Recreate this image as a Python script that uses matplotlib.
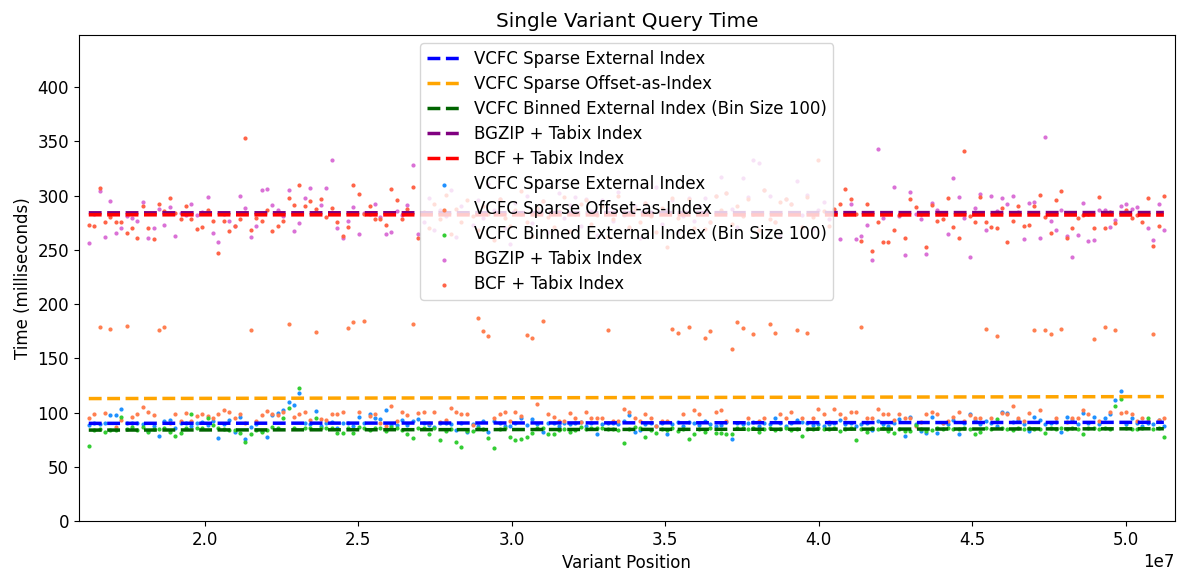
import numpy as np
import matplotlib
matplotlib.use("Agg")
import matplotlib.pyplot as plt

# Variant positions (in Mb)
positions_mb = [
    16.22, 16.40, 16.57, 16.75, 16.92, 17.10, 17.28, 17.45, 17.63, 17.80,
    17.98, 18.16, 18.33, 18.51, 18.68, 18.86, 19.04, 19.21, 19.39, 19.56,
    19.74, 19.92, 20.09, 20.27, 20.44, 20.62, 20.80, 20.97, 21.15, 21.32,
    21.50, 21.68, 21.85, 22.03, 22.20, 22.38, 22.56, 22.73, 22.91, 23.08,
    23.26, 23.44, 23.61, 23.79, 23.96, 24.14, 24.32, 24.49, 24.67, 24.84,
    25.02, 25.20, 25.37, 25.55, 25.72, 25.90, 26.08, 26.25, 26.43, 26.60,
    26.78, 26.96, 27.13, 27.31, 27.48, 27.66, 27.84, 28.01, 28.19, 28.36,
    28.54, 28.72, 28.89, 29.07, 29.24, 29.42, 29.60, 29.77, 29.95, 30.12,
    30.30, 30.48, 30.65, 30.83, 31.00, 31.18, 31.36, 31.53, 31.71, 31.88,
    32.06, 32.24, 32.41, 32.59, 32.76, 32.94, 33.12, 33.29, 33.47, 33.64,
    33.82, 34.00, 34.17, 34.35, 34.52, 34.70, 34.88, 35.05, 35.23, 35.40,
    35.58, 35.76, 35.93, 36.11, 36.28, 36.46, 36.64, 36.81, 36.99, 37.16,
    37.34, 37.52, 37.69, 37.87, 38.04, 38.22, 38.40, 38.57, 38.75, 38.92,
    39.10, 39.28, 39.45, 39.63, 39.80, 39.98, 40.16, 40.33, 40.51, 40.68,
    40.86, 41.04, 41.21, 41.39, 41.56, 41.74, 41.92, 42.09, 42.27, 42.44,
    42.62, 42.80, 42.97, 43.15, 43.32, 43.50, 43.68, 43.85, 44.03, 44.20,
    44.38, 44.56, 44.73, 44.91, 45.08, 45.26, 45.44, 45.61, 45.79, 45.96,
    46.14, 46.32, 46.49, 46.67, 46.84, 47.02, 47.20, 47.37, 47.55, 47.72,
    47.90, 48.08, 48.25, 48.43, 48.60, 48.78, 48.96, 49.13, 49.31, 49.48,
    49.66, 49.84, 50.01, 50.19, 50.36, 50.54, 50.72, 50.89, 51.07, 51.24,
]

# Query times (ms)
sparse_external = [
    88.5, 90.6, 89, 90, 97.7, 97.7, 103.2, 90.0, 90, 90,
    89, 82.9, 88, 78.6, 92.5, 93.1, 85.4, 90, 90, 88,
    90, 91, 88.5, 92.2, 76.8, 89, 93.1, 82.3, 96.1, 75.6,
    86.9, 89, 82.9, 77.7, 97.7, 99.2, 102.3, 109.4, 106.6, 117.7,
    90, 89, 101.7, 88, 90, 90.9, 85.4, 90, 90, 88,
    95.5, 90, 98.3, 95.2, 94.0, 102.6, 88.5, 88.5, 93.1, 88.5,
    92.5, 93.7, 90, 88.5, 86.9, 90, 90.6, 89, 83.9, 90,
    82.3, 89, 88, 92.5, 82.3, 92.5, 90, 88, 88, 90,
    95.2, 88.5, 93.7, 89, 82.3, 90, 90, 88, 90, 89,
    90, 91.6, 88, 90, 79.9, 89, 90, 90, 89, 92.5,
    98.0, 82.3, 83.9, 89, 90, 88, 90, 80.2, 89, 91,
    88, 91.6, 90, 88.5, 92.5, 89, 88, 88.5, 91.6, 75.6,
    90, 89, 90, 91, 88, 90, 89, 95.2, 90, 88,
    90, 93.1, 91.6, 90, 88.5, 89, 88, 89.1, 90, 93.1,
    89, 90, 88, 89, 90, 83.9, 92.5, 89, 88, 90,
    94.0, 78.6, 96.1, 89, 82.9, 81.4, 95.8, 81.4, 90, 89,
    93.1, 80.2, 90, 98.3, 93.1, 89, 92.5, 90, 88, 100.8,
    99.2, 91, 93.1, 89, 83.2, 96.1, 93.1, 89, 90, 91,
    82.3, 96.1, 93.1, 89, 99.2, 90, 96.1, 89, 94.6, 98.3,
    111.5, 120.1, 89, 94.6, 90, 88, 90, 89, 93.1, 87.5,
]

sparse_offset = [
    95.2, 98.3, 178.8, 99.2, 177.2, 87, 93, 179.7, 96.1, 98.3,
    105.4, 100.8, 97.7, 176.0, 178.8, 90, 98.3, 92, 99.2, 92.2,
    97.1, 98.3, 97.1, 95.2, 98.3, 102.6, 100.8, 95.2, 98.3, 90.0,
    176.0, 92.5, 97.7, 101.7, 98.3, 97.7, 100.8, 181.6, 95.8, 98.3,
    100.8, 93.1, 173.9, 94.3, 93.1, 98.3, 98.3, 100.8, 178.2, 183.7,
    100.2, 184.3, 97.1, 98.3, 90.6, 87.5, 105.9, 92.5, 100.8, 97.7,
    181.6, 99.2, 100.2, 90.3, 100.8, 91.6, 93.1, 104.5, 100.2, 98.3,
    98.3, 88.5, 187.1, 174.8, 170.5, 95.2, 98.3, 100.8, 92.5, 100.8,
    97.1, 171.7, 168.9, 107.5, 184.3, 98.3, 96.1, 92.5, 92, 99.9,
    95.2, 91, 100.8, 95.2, 95.2, 95.2, 176.0, 92.5, 92, 103.5,
    100.8, 95.2, 92, 98.3, 95.2, 88, 92.5, 92.5, 176.6, 173.0,
    98.3, 178.8, 102.0, 98.3, 168.9, 174.8, 100.8, 102.0, 92.5, 158.2,
    183.4, 177.6, 95.2, 172.0, 92, 95.2, 181.6, 173.0, 98.3, 95.2,
    100.8, 176.0, 95.2, 173.0, 94.6, 103.5, 98.3, 91.6, 103.5, 98.3,
    95.2, 100.2, 100.8, 178.8, 94.6, 95.2, 103.5, 98.3, 98.3, 93.1,
    98.3, 95.2, 95.2, 88, 91, 98.3, 100.8, 98.3, 90, 92,
    96.1, 100.8, 92.5, 97.7, 95.2, 94.6, 177.2, 95.2, 170.5, 99.2,
    98.3, 105.9, 95.2, 92, 99.9, 176.0, 102.0, 176.0, 172.7, 95.2,
    177.2, 91, 95.2, 94.6, 102.0, 98.3, 167.7, 92, 178.8, 100.8,
    176.0, 99.9, 100.8, 98.3, 92, 94.6, 92.5, 172.0, 93, 95.2,
]

binned_external = [
    69.1, 83.9, 85, 82.3, 83.9, 83.9, 96.1, 84.5, 86.9, 83.9,
    86.9, 82.3, 84.5, 85, 85.4, 82.3, 78.6, 81.4, 85.4, 98.3,
    85.4, 86, 94.6, 88.5, 85.4, 85, 83.9, 83.9, 81.4, 73.1,
    79.9, 83.9, 82.3, 83.9, 86.9, 85.4, 94.6, 104.5, 86, 122.3,
    85.4, 86, 95.2, 85.4, 85.4, 85.4, 80.8, 81.4, 85.4, 81.4,
    86.9, 85.4, 83.9, 85.4, 85.4, 82.9, 86.9, 85.4, 83.9, 80.2,
    76.8, 85.4, 85.4, 79.9, 85.4, 74.7, 82.9, 85, 73.1, 68.5,
    82.9, 82.9, 86, 85, 76.2, 67.6, 84.5, 86, 77.7, 74.7,
    75.6, 77.7, 81.4, 85.4, 86, 80.2, 79.9, 83.9, 85, 82.3,
    83.9, 86.9, 85, 85.4, 86, 85.4, 85, 84.5, 83.9, 72.2,
    85, 86.9, 86, 77.7, 83.9, 80.8, 85, 83.9, 86, 82.9,
    85, 75.6, 80.2, 85, 82.3, 85.4, 81.4, 81.4, 80.2, 80.2,
    86, 85.4, 85, 86, 82.3, 85, 86, 83.9, 85, 86,
    83.9, 85, 78.6, 85, 84.5, 86, 85, 84.5, 86, 82.9,
    85, 86, 74.7, 85, 82.3, 86, 85, 86, 82.9, 81.4,
    84.5, 82.9, 83.2, 88.5, 85, 82.9, 83.9, 86, 85, 86,
    84.5, 85, 86, 85, 79.9, 81.7, 85.4, 85, 94.3, 86,
    85, 83.9, 86, 85, 86, 84.5, 85, 81.4, 86, 85,
    86, 85, 86, 85, 80.2, 86, 85.4, 85, 86, 85,
    106.0, 112.1, 86, 85, 84.5, 86, 94.6, 85, 86, 77.1,
]

bgzip_tabix = [
    256.0, 283, 304.1, 262.1, 295.2, 265.8, 270.3, 281, 279.0, 276.8,
    294.3, 260.5, 270.3, 287.2, 272.8, 289.7, 263.0, 284, 282.0, 292.5,
    282, 285, 298.6, 265.1, 256.8, 283, 276.2, 271.9, 299.2, 288.8,
    262.1, 272.4, 305.4, 305.7, 290.9, 286.3, 281, 305.4, 267.7, 274.3,
    298.0, 307.4, 285.1, 290.9, 306.8, 333.0, 269.8, 260.5, 276.8, 289.4,
    264.5, 283.6, 283, 292.5, 280, 264.2, 266.4, 286, 282, 290.9,
    327.8, 264.2, 276, 298, 268, 287, 281, 305, 262, 290,
    284, 273, 296, 279, 311, 287, 297, 270, 255, 293,
    283, 300, 275, 288, 295, 266, 284, 302, 279, 291,
    299, 272, 297, 286, 264, 296, 289, 277, 303, 282,
    270, 290, 261, 293, 285, 308, 274, 287, 296, 266,
    281, 298, 277, 290, 298, 276, 300, 317, 302, 288,
    271, 316, 299, 333, 330, 305, 300, 276, 263, 297,
    292, 313, 282, 301, 269, 287, 294, 278, 285, 260.2,
    283.3, 292.2, 260.2, 263.0, 272.8, 240.2, 342.5, 279.6, 284, 307.8,
    281, 245.5, 303.5, 282.6, 278.3, 246.4, 293.4, 286.6, 284, 264.2,
    315.8, 299.0, 279.0, 243.0, 288.2, 301.1, 268.5, 299.9, 285.7, 297.4,
    291.9, 299.5, 285, 260.2, 293.4, 293.7, 261.1, 354.2, 276.2, 267.9,
    286.6, 263.0, 243.7, 263.6, 292.8, 257.8, 259.0, 286.3, 286.3, 270.6,
    277.4, 290.3, 292.5, 287.2, 289.4, 284, 270.0, 259.0, 292.5, 267.9,
]

bcf_tabix = [
    272.8, 271.9, 306.6, 275.3, 280.5, 275.9, 275.9, 265.1, 270.3, 261.1,
    290.3, 269.8, 259.6, 292.5, 285.7, 298.0, 283.6, 278.0, 290.3, 278.0,
    269.1, 270.6, 286.3, 276.8, 247.0, 276.2, 267.3, 272.2, 278.3, 352.7,
    268.5, 279.0, 276.5, 286.9, 267.3, 271.9, 276.2, 298.0, 291.2, 309.7,
    290.3, 295.2, 287.2, 296.8, 280.5, 288.5, 275.3, 263.0, 271.3, 309.7,
    301.1, 283, 290.3, 278.0, 278.0, 273.1, 306.3, 295.5, 278.3, 287.2,
    307.5, 260.5, 285, 270, 292, 278, 301, 265, 288, 276,
    296, 281, 268, 290, 283, 259, 297, 279, 272, 287,
    304, 276, 263, 289, 295, 280, 271, 286, 299, 267,
    283, 292, 296, 274, 282, 290, 262, 278, 300, 285,
    271, 288, 276, 293, 281, 266, 289, 253, 298, 279,
    285, 297, 270, 284, 269, 276, 300, 287, 302, 274,
    290, 281, 297, 283, 268, 305, 278, 276, 294, 297,
    292, 284, 271, 299, 280, 333, 286, 272, 288, 291.9,
    306.3, 296.5, 283, 257.8, 292.5, 249.1, 275.6, 257.5, 257.5, 268.5,
    282.0, 260.8, 296.8, 289.1, 283, 252.9, 291.2, 276.8, 278.3, 298.0,
    271.3, 260.5, 341.0, 281.1, 275.6, 298.6, 275.3, 271.3, 270.3, 288.2,
    257.5, 276.5, 290.6, 271.9, 273.1, 290.3, 300.2, 280.5, 265.8, 296.2,
    303.8, 260.8, 270.0, 279.6, 282.0, 283, 270.0, 298.6, 270.0, 284.5,
    274.3, 283.6, 286.6, 279.0, 282, 275.6, 297.4, 253.5, 271.9, 299.5,
]

labels = [
    "VCFC Sparse External Index",
    "VCFC Sparse Offset-as-Index",
    "VCFC Binned External Index (Bin Size 100)",
    "BGZIP + Tabix Index",
    "BCF + Tabix Index",
]
line_colors = ["blue", "orange", "darkgreen", "purple", "red"]
point_colors = ["dodgerblue", "coral", "limegreen", "orchid", "tomato"]

plt.rcParams["font.family"] = ["DejaVu Sans"]
plt.rcParams["font.size"] = 12

x = np.array(positions_mb) * 1e6
series = [sparse_external, sparse_offset, binned_external, bgzip_tabix, bcf_tabix]

fig = plt.figure(figsize=(11.82, 5.73), dpi=100)
ax = fig.add_axes([0.0668, 0.0908, 0.9272, 0.848])

for ys, lab, lc in zip(series, labels, line_colors):
    coef = np.polyfit(x, np.array(ys), 1)
    ax.plot(x, np.polyval(coef, x), "--", color=lc, lw=2.5, label=lab)

for ys, lab, pc in zip(series, labels, point_colors):
    ax.scatter(x, ys, s=4, color=pc, label=lab)

ax.set_xlim(15.9e6, 51.6e6)
ax.set_ylim(0, 448)
ax.set_title("Single Variant Query Time", fontsize=14.4)
ax.set_xlabel("Variant Position")
ax.set_ylabel("Time (milliseconds)")
ax.legend(loc="upper center", fontsize=12, labelspacing=0.42)

fig.savefig("out.png", dpi=100)
